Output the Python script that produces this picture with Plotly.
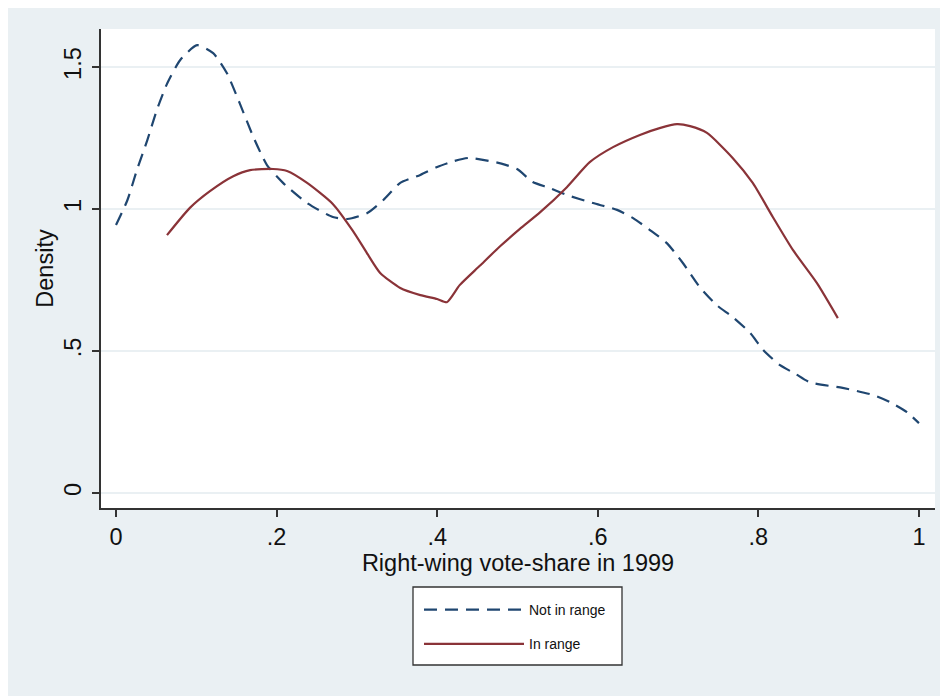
import plotly.graph_objects as go

# Kernel density estimates
x_not = [0, 0.014, 0.026, 0.039, 0.051, 0.064, 0.080, 0.101, 0.121, 0.138, 0.154, 0.171,
         0.188, 0.208, 0.238, 0.270, 0.288, 0.313, 0.333, 0.354, 0.379, 0.40, 0.42, 0.44,
         0.48, 0.50, 0.519, 0.540, 0.562, 0.594, 0.624, 0.644, 0.665, 0.686, 0.706, 0.727,
         0.748, 0.768, 0.790, 0.806, 0.827, 0.846, 0.864, 0.905, 0.943, 0.964, 0.985, 1.0]
y_not = [0.944, 1.03, 1.137, 1.243, 1.35, 1.444, 1.525, 1.577, 1.549, 1.479, 1.373, 1.254,
         1.155, 1.092, 1.021, 0.972, 0.965, 0.986, 1.032, 1.092, 1.12, 1.148, 1.168, 1.18,
         1.16, 1.14, 1.095, 1.074, 1.049, 1.021, 0.997, 0.968, 0.926, 0.880, 0.810, 0.725,
         0.662, 0.620, 0.563, 0.504, 0.45, 0.42, 0.39, 0.37, 0.345, 0.32, 0.285, 0.246]

x_in = [0.0635, 0.092, 0.117, 0.146, 0.167, 0.1955, 0.213, 0.238, 0.270, 0.295, 0.3125,
        0.329, 0.354, 0.379, 0.40, 0.412, 0.428, 0.453, 0.478, 0.503, 0.528, 0.5615, 0.590,
        0.619, 0.6525, 0.677, 0.6986, 0.715, 0.736, 0.768, 0.793, 0.818, 0.843, 0.873, 0.899]
y_in = [0.908, 1.004, 1.063, 1.1155, 1.137, 1.141, 1.134, 1.092, 1.018, 0.923, 0.845,
        0.775, 0.722, 0.697, 0.683, 0.672, 0.732, 0.80, 0.868, 0.930, 0.988, 1.077, 1.165,
        1.218, 1.261, 1.285, 1.299, 1.292, 1.268, 1.180, 1.092, 0.972, 0.856, 0.739, 0.616]

x_tickvals = [0, 0.2, 0.4, 0.6, 0.8, 1]
x_ticktext = ["0", ".2", ".4", ".6", ".8", "1"]
y_tickvals = [0, 0.5, 1, 1.5]
y_ticktext = ["0", ".5", "1", "1.5"]

NAVY = "#1f4670"
MAROON = "#8a3338"
BG = "#eaf0f3"
FONT = "Liberation Sans, Arial, sans-serif"

fig = go.Figure()
fig.add_trace(go.Scatter(x=x_not, y=y_not, mode="lines", name="Not in range",
                         legendgroup="a",
                         line=dict(color=NAVY, width=2.2, dash="13px,8px", shape="spline", smoothing=0.6)))
fig.add_trace(go.Scatter(x=x_in, y=y_in, mode="lines", name="In range",
                         legendgroup="b",
                         line=dict(color=MAROON, width=2.2, shape="spline", smoothing=0.6)))

# page has an 8px body margin, so the figure is 8px smaller and all coordinates shift by 8
W, H = 940, 688
L, R, T, B = 93, 13, 21, 188
pw, ph = W - L - R, H - T - B


def px(xp):
    return (xp - L) / pw


def py(yp):
    return (H - B - yp) / ph


shapes = [
    # legend box
    dict(type="rect", xref="paper", yref="paper", x0=px(405), x1=px(614), y0=py(657), y1=py(579),
         fillcolor="white", line=dict(color="#333333", width=1.3), layer="below"),
]

fig.update_layout(
    width=W, height=H,
    margin=dict(l=L, r=R, t=T, b=B),
    paper_bgcolor=BG,
    plot_bgcolor="white",
    font=dict(family=FONT, color="#111111"),
    shapes=shapes,
    showlegend=True,
    legend=dict(
        x=px(411), y=py(586), xanchor="left", yanchor="top",
        bgcolor="rgba(0,0,0,0)", borderwidth=0,
        font=dict(size=14, family=FONT, color="#111111"),
        itemwidth=100, tracegroupgap=13,
    ),
    xaxis=dict(
        range=[-0.0187, 1.02], tickvals=x_tickvals, ticktext=x_ticktext,
        showgrid=False, zeroline=False, showline=True, linecolor="#333333", linewidth=1.5,
        ticks="outside", ticklen=7, tickwidth=1.5, tickcolor="#333333",
        tickfont=dict(size=23.5, family=FONT, color="#111111"),
        title=dict(text="Right-wing vote-share in 1999", standoff=5,
                   font=dict(size=23.5, family=FONT, color="#111111")),
    ),
    yaxis=dict(
        range=[-0.0528, 1.634], tickvals=y_tickvals, ticktext=y_ticktext,
        showgrid=True, gridcolor=BG, gridwidth=1.5, zeroline=False,
        showline=True, linecolor="#333333", linewidth=1.5,
        ticks="outside", ticklen=7, tickwidth=1.5, tickcolor="#333333",
        tickangle=-90, ticklabelstandoff=2,
        tickfont=dict(size=23.5, family=FONT, color="#111111"),
        title=dict(text="Density", standoff=0,
                   font=dict(size=23.5, family=FONT, color="#111111")),
    ),
)

fig.write_html("out.html")
